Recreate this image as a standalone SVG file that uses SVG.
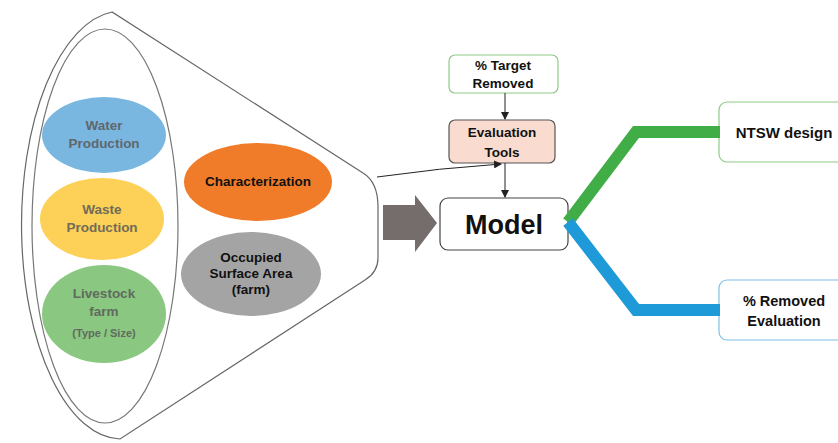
<svg xmlns="http://www.w3.org/2000/svg" width="838" height="443" viewBox="0 0 838 443">
<defs>
<style>
text{font-family:"Liberation Sans",Arial,sans-serif;font-weight:bold;text-anchor:middle}
.t13{font-size:13.5px}
.dim{fill:#5a5a5a;opacity:0.85}
.box{fill:#fff;stroke-width:1.2}
.thin{fill:none;stroke:#222;stroke-width:1}
</style>
<marker id="ah" markerWidth="8" markerHeight="8" refX="7" refY="4" orient="auto" markerUnits="userSpaceOnUse">
<path d="M0,0 L8,4 L0,8 z" fill="#222"/>
</marker>
</defs>
<rect width="838" height="443" fill="#fff"/>
<g id="funnel">
<path d="M112,12 A100,214 0 0 0 120,439 L365,280 Q378,272 378,258 L378,207 Q378,182 363,173 Z" fill="#fff" stroke="#666" stroke-width="1.2"/>
<ellipse cx="105" cy="226" rx="73" ry="197" fill="#fff" stroke="#777" stroke-width="1.2"/>
</g>
<g id="water">
<ellipse cx="104" cy="135" rx="62" ry="38" fill="#7ab7e0"/>
<text class="t13 dim" x="104" y="130">Water</text>
<text class="t13 dim" x="104" y="148">Production</text>
</g>
<g id="waste">
<ellipse cx="102" cy="219" rx="62" ry="41" fill="#fdd057"/>
<text class="t13 dim" x="102" y="214">Waste</text>
<text class="t13 dim" x="102" y="232">Production</text>
</g>
<g id="livestock">
<ellipse cx="104" cy="314" rx="62" ry="49" fill="#8ac780"/>
<text class="t13 dim" x="104" y="298">Livestock</text>
<text class="t13 dim" x="104" y="316">farm</text>
<text class="dim" x="104" y="337" font-size="11">(Type / Size)</text>
</g>
<g id="characterization">
<ellipse cx="258" cy="182" rx="74" ry="39" fill="#f07c2a"/>
<text class="t13" x="258" y="186" fill="#111">Characterization</text>
</g>
<g id="occupied">
<ellipse cx="251" cy="274" rx="70" ry="42" fill="#a4a4a4"/>
<text class="t13" x="251" y="262" fill="#111">Occupied</text>
<text class="t13" x="251" y="278" fill="#111">Surface Area</text>
<text class="t13" x="251" y="294" fill="#111">(farm)</text>
</g>
<g id="target">
<rect x="449" y="55" width="109" height="38" rx="6" class="box" stroke="#8fca88"/>
<text class="t13" x="503" y="70" fill="#111">% Target</text>
<text class="t13" x="503" y="88" fill="#111">Removed</text>
</g>
<g id="evaluation">
<rect x="449" y="120" width="106" height="43" rx="6" fill="#f9dccf" stroke="#555" stroke-width="1.2"/>
<text class="t13" x="502" y="137" fill="#111">Evaluation</text>
<text class="t13" x="502" y="157" fill="#111">Tools</text>
</g>
<g id="model">
<rect x="440" y="198" width="128" height="52" rx="8" class="box" stroke="#444"/>
<text x="504" y="234" font-size="27" fill="#111">Model</text>
</g>
<g id="ntsw">
<rect x="719" y="102" width="130" height="60" rx="8" class="box" stroke="#8fca88"/>
<text x="784" y="138" fill="#111" font-size="15">NTSW design</text>
</g>
<g id="removed">
<rect x="719" y="280" width="130" height="60" rx="8" class="box" stroke="#7fc0e8"/>
<text x="784" y="306" fill="#111" font-size="14.5">% Removed</text>
<text x="784" y="326" fill="#111" font-size="14.5">Evaluation</text>
</g>
<g id="connectors">
<path d="M383,205 L415,205 L415,195 L437,223 L415,252 L415,240 L383,240 Z" fill="#756c6c"/>
<line x1="505" y1="93" x2="505" y2="119" class="thin" marker-end="url(#ah)"/>
<line x1="505" y1="163" x2="505" y2="197" class="thin" marker-end="url(#ah)"/>
<path d="M377,177 Q440,168 501,164" class="thin" marker-end="url(#ah)"/>
<polyline points="568,222 636,132 720,132" fill="none" stroke="#41ad47" stroke-width="12" stroke-linejoin="miter"/>
<polyline points="568,222 636,310 720,310" fill="none" stroke="#1f9ad8" stroke-width="12" stroke-linejoin="miter"/>
</g>
</svg>
